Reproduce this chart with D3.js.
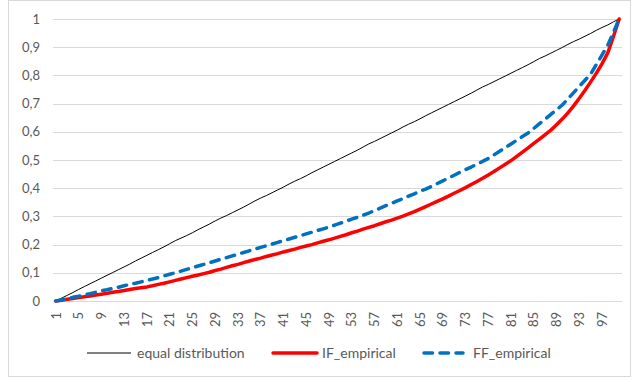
<!DOCTYPE html>
<html>
<head>
<meta charset="utf-8">
<script src="https://cdn.jsdelivr.net/npm/d3@7"></script>
<style>
  html, body { margin: 0; padding: 0; background: #fff; }
  svg { display: block; }
  text { font-family: Lato, "Noto Sans", sans-serif; fill: #595959; }
</style>
</head>
<body>
<svg id="chart" width="632" height="380"></svg>
<script>
// Percentile categories 1..100
const categories = d3.range(1, 101);

// Cumulative shares per percentile
const equalDistribution = [
  0.000, 0.010, 0.020, 0.030, 0.041, 0.051, 0.061, 0.071, 0.081, 0.091,
  0.101, 0.111, 0.121, 0.131, 0.142, 0.152, 0.162, 0.172, 0.182, 0.192,
  0.203, 0.214, 0.223, 0.232, 0.242, 0.253, 0.263, 0.273, 0.284, 0.294,
  0.303, 0.313, 0.323, 0.333, 0.344, 0.355, 0.365, 0.374, 0.384, 0.394,
  0.404, 0.415, 0.425, 0.434, 0.444, 0.455, 0.465, 0.475, 0.485, 0.495,
  0.505, 0.515, 0.525, 0.535, 0.546, 0.557, 0.566, 0.576, 0.586, 0.596,
  0.606, 0.617, 0.627, 0.636, 0.646, 0.657, 0.667, 0.677, 0.687, 0.697,
  0.707, 0.717, 0.727, 0.737, 0.748, 0.759, 0.768, 0.778, 0.788, 0.798,
  0.808, 0.818, 0.828, 0.838, 0.849, 0.860, 0.869, 0.879, 0.889, 0.899,
  0.910, 0.920, 0.929, 0.939, 0.949, 0.960, 0.970, 0.979, 0.990, 1.000
];

const ifEmpirical = [
  0.000, 0.003, 0.006, 0.009, 0.012, 0.015, 0.018, 0.021, 0.024, 0.027,
  0.031, 0.034, 0.037, 0.041, 0.044, 0.047, 0.050, 0.054, 0.059, 0.063,
  0.068, 0.073, 0.078, 0.083, 0.088, 0.092, 0.097, 0.102, 0.108, 0.113,
  0.119, 0.125, 0.130, 0.136, 0.142, 0.147, 0.152, 0.158, 0.163, 0.168,
  0.174, 0.179, 0.184, 0.190, 0.195, 0.200, 0.206, 0.212, 0.217, 0.223,
  0.229, 0.235, 0.242, 0.248, 0.255, 0.261, 0.267, 0.274, 0.281, 0.287,
  0.294, 0.301, 0.309, 0.317, 0.326, 0.335, 0.344, 0.353, 0.362, 0.372,
  0.382, 0.392, 0.402, 0.413, 0.424, 0.435, 0.447, 0.459, 0.472, 0.485,
  0.498, 0.513, 0.528, 0.543, 0.559, 0.574, 0.590, 0.606, 0.625, 0.645,
  0.667, 0.692, 0.719, 0.747, 0.777, 0.808, 0.842, 0.880, 0.938, 1.000
];

const ffEmpirical = [
  0.000, 0.004, 0.008, 0.013, 0.017, 0.022, 0.026, 0.031, 0.036, 0.040,
  0.045, 0.049, 0.054, 0.059, 0.063, 0.068, 0.073, 0.078, 0.083, 0.089,
  0.095, 0.100, 0.106, 0.112, 0.118, 0.124, 0.130, 0.136, 0.142, 0.148,
  0.154, 0.160, 0.166, 0.172, 0.178, 0.184, 0.190, 0.196, 0.202, 0.208,
  0.214, 0.220, 0.226, 0.232, 0.238, 0.244, 0.250, 0.256, 0.262, 0.269,
  0.276, 0.283, 0.290, 0.297, 0.304, 0.312, 0.321, 0.329, 0.338, 0.346,
  0.355, 0.363, 0.372, 0.380, 0.389, 0.397, 0.406, 0.416, 0.426, 0.436,
  0.446, 0.456, 0.466, 0.475, 0.485, 0.495, 0.505, 0.518, 0.531, 0.544,
  0.557, 0.570, 0.583, 0.596, 0.612, 0.629, 0.645, 0.662, 0.678, 0.695,
  0.717, 0.739, 0.761, 0.783, 0.805, 0.839, 0.873, 0.907, 0.953, 1.000
];

const yTickValues = [0, 0.1, 0.2, 0.3, 0.4, 0.5, 0.6, 0.7, 0.8, 0.9, 1];
const xTickLabels = [1, 5, 9, 13, 17, 21, 25, 29, 33, 37, 41, 45, 49, 53, 57, 61, 65, 69, 73, 77, 81, 85, 89, 93, 97];

const seriesNames = ["equal distribution", "IF_empirical", "FF_empirical"];

const series = [
  { name: seriesNames[0], values: equalDistribution, color: "#000000", width: 1, dash: null, cap: "butt" },
  { name: seriesNames[1], values: ifEmpirical, color: "#ff0000", width: 3.5, dash: null, cap: "round" },
  { name: seriesNames[2], values: ffEmpirical, color: "#0070c0", width: 3.5, dash: "8.5,7.5", cap: "round" }
];

const svg = d3.select("#chart");

// chart area border
svg.append("rect")
  .attr("x", 8.5).attr("y", 0.5)
  .attr("width", 622).attr("height", 376)
  .attr("fill", "#fff")
  .attr("stroke", "#d9d9d9")
  .attr("stroke-width", 1);

const x = d3.scaleBand().domain(categories).range([53, 622]);
const y = d3.scaleLinear().domain([0, 1]).range([301, 19]);
const cx = d => x(d) + x.bandwidth() / 2;

// horizontal gridlines
svg.append("g")
  .selectAll("line")
  .data(yTickValues)
  .join("line")
  .attr("x1", 53).attr("x2", 622)
  .attr("y1", d => Math.round(y(d)) + 0.5)
  .attr("y2", d => Math.round(y(d)) + 0.5)
  .attr("stroke", "#d9d9d9")
  .attr("stroke-width", 1);

// y axis labels
const fmt = d => d === 0 ? "0" : d === 1 ? "1" : String(d).replace(".", ",");
svg.append("g")
  .selectAll("text")
  .data(yTickValues)
  .join("text")
  .attr("x", 40)
  .attr("y", d => y(d))
  .attr("dy", "0.36em")
  .attr("text-anchor", "end")
  .attr("font-size", 13)
  .text(fmt);

// x axis labels, rotated
svg.append("g")
  .selectAll("text")
  .data(xTickLabels)
  .join("text")
  .attr("transform", d => `translate(${cx(d)},312) rotate(-90)`)
  .attr("dy", "0.36em")
  .attr("text-anchor", "end")
  .attr("font-size", 13)
  .text(d => d);

// series lines
const line = d3.line()
  .x((v, i) => cx(categories[i]))
  .y(v => y(v));

svg.append("g")
  .selectAll("path")
  .data(series)
  .join("path")
  .attr("d", s => line(s.values))
  .attr("fill", "none")
  .attr("stroke", s => s.color)
  .attr("stroke-width", s => s.width)
  .attr("stroke-linejoin", "round")
  .attr("stroke-linecap", s => s.cap)
  .attr("stroke-dasharray", s => s.dash);

// legend
const legendItems = [
  { s: series[0], x1: 87, x2: 131, tx: 137 },
  { s: series[1], x1: 273, x2: 317, tx: 322 },
  { s: series[2], x1: 424, x2: 463, tx: 473 }
];
const lg = svg.append("g");
legendItems.forEach(it => {
  lg.append("line")
    .attr("x1", it.x1).attr("x2", it.x2)
    .attr("y1", 353).attr("y2", 353)
    .attr("stroke", it.s.color)
    .attr("stroke-width", it.s.width)
    .attr("stroke-linecap", it.s.cap)
    .attr("stroke-dasharray", it.s.dash);
  lg.append("text")
    .attr("x", it.tx).attr("y", 353)
    .attr("dy", "0.36em")
    .attr("font-size", 14)
    .text(it.s.name);
});
</script>
</body>
</html>
